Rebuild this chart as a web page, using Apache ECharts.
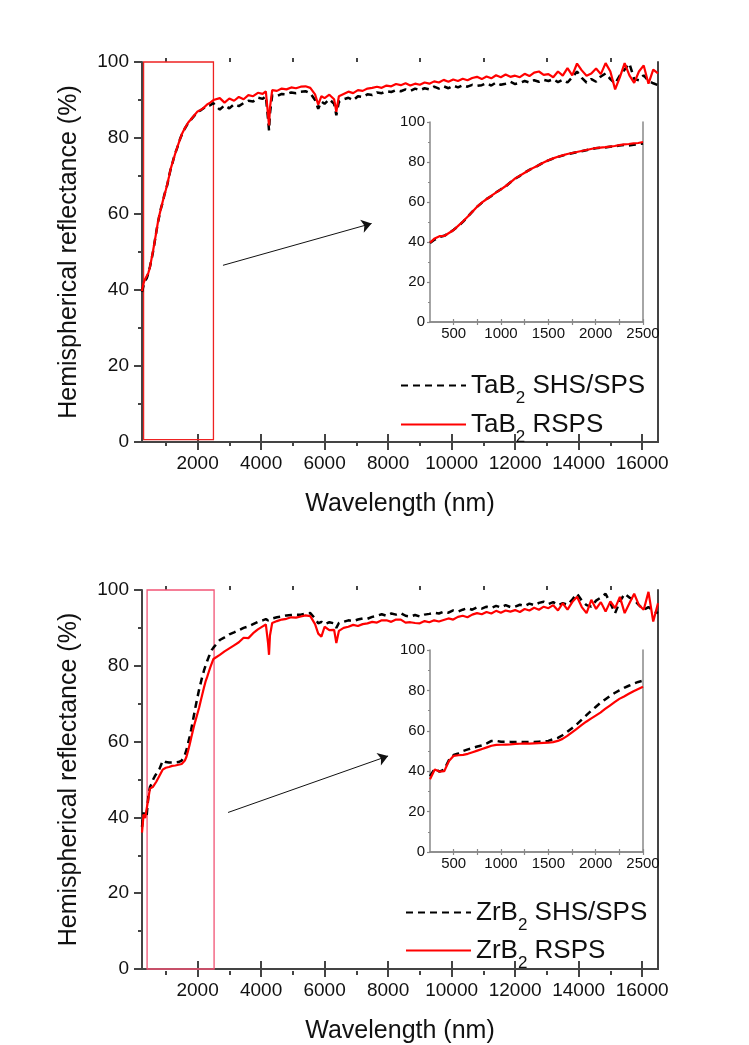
<!DOCTYPE html>
<html>
<head>
<meta charset="utf-8">
<script src="https://cdn.jsdelivr.net/npm/echarts@6/dist/echarts.min.js"></script>
<style>html,body{margin:0;padding:0;background:#fff;}#c{width:749px;height:1045px;}</style>
</head>
<body>
<div id="c"></div>
<script>
// ---------- data ----------
const insetWl = [
  250,300,350,400,450,500,550,600,650,700,
  750,800,850,900,950,1000,1050,1100,1150,1200,
  1250,1300,1350,1400,1450,1500,1550,1600,1650,1700,
  1750,1800,1850,1900,1950,2000,2050,2100,2150,2200,
  2250,2300,2350,2400,2450,2500];

const taShsInset = [
  39.5,41.2,42.5,43.1,44.4,46.1,48.0,50.2,52.7,55.3,
  57.7,59.7,61.6,63.0,64.9,66.4,67.8,69.9,71.7,73.1,
  74.7,76.1,77.2,78.4,79.8,80.8,81.7,82.5,83.2,83.9,
  84.4,84.9,85.4,85.9,86.4,86.9,87.1,87.3,87.6,87.9,
  88.2,88.5,88.3,88.6,88.9,89.2];
const taRspsInset = [
  39.7,41.8,42.9,43.0,44.5,46.0,48.2,50.4,52.8,55.2,
  57.8,59.8,61.5,63.2,64.8,66.3,68.0,69.8,71.8,73.2,
  74.6,76.0,77.3,78.5,79.7,80.9,81.8,82.6,83.3,84.0,
  84.5,85.0,85.5,86.0,86.5,87.0,87.2,87.4,87.7,88.0,
  88.4,88.8,89.0,89.3,89.5,90.0];
const zrShsInset = [
  37.5,41.3,39.8,40.8,45.5,48.0,48.8,50.0,50.8,51.5,
  52.2,52.8,53.8,55.0,55.0,54.6,54.6,54.5,54.4,54.5,
  54.5,54.5,54.4,54.6,54.8,55.0,55.8,56.5,57.8,59.5,
  61.3,63.2,65.4,67.6,69.8,71.8,73.8,75.5,77.2,78.7,
  80.0,81.2,82.3,83.3,84.2,84.8];
const zrRspsInset = [
  36.0,40.8,39.8,40.0,45.0,47.6,47.9,48.1,48.6,49.4,
  50.2,51.0,51.8,52.6,53.0,53.1,53.2,53.3,53.5,53.6,
  53.8,53.7,53.8,53.9,54.0,54.1,54.4,55.0,56.0,57.5,
  59.2,61.0,62.8,64.5,66.0,67.5,69.0,70.8,72.5,74.2,
  75.8,77.0,78.3,79.6,80.7,81.8];

const longWl = [
  2550,2700,2850,3000,3150,3300,3450,3600,3750,3900,
  4050,4150,4220,4250,4280,4350,4500,4650,4800,4950,
  5100,5250,5400,5550,5700,5800,5900,6000,6150,6300,
  6370,6450,6600,6750,6900,7050,7200,7350,7500,7650,
  7800,7950,8100,8250,8400,8550,8700,8850,9000,9150,
  9300,9450,9600,9750,9900,10050,10200,10350,10500,10650,
  10800,10950,11100,11250,11400,11550,11700,11850,12000,12150,
  12300,12450,12600,12750,12900,13050,13200,13350,13500,13650,
  13800,13950,14100,14250,14400,14550,14700,14850,15000,15150,
  15300,15450,15600,15750,15900,16050,16200,16350,16500];

const taShsLong = [
  88.5,87.5,88.6,87.8,88.9,88.4,89.2,89.8,89.6,90.6,
  90.3,91.0,85.0,82.0,86.5,91.2,91.0,91.6,91.5,92.0,
  91.8,92.2,92.3,91.8,90.0,87.7,89.6,89.0,90.2,89.0,
  86.0,89.5,90.2,90.6,89.9,91.0,90.8,91.5,91.3,92.0,
  91.8,92.3,92.1,92.6,92.3,92.8,92.4,93.0,92.6,93.1,
  92.8,93.5,93.0,93.6,93.1,93.8,93.3,93.9,93.5,94.0,
  93.7,93.9,94.4,93.8,94.6,94.0,94.3,94.8,94.2,94.5,
  95.0,94.6,95.2,94.8,95.3,95.0,95.5,94.7,95.3,94.6,
  96.0,97.5,95.8,94.6,95.5,94.8,96.2,97.0,95.5,94.3,
  96.5,98.0,99.6,95.5,95.2,96.5,95.0,94.4,93.9];
const taRspsLong = [
  89.5,90.5,89.3,90.4,89.8,90.8,90.2,91.3,91.0,91.9,
  91.6,92.3,86.0,83.3,88.0,92.6,92.4,93.0,92.8,93.3,
  93.1,93.5,93.6,93.2,91.5,88.8,91.0,90.5,91.4,90.2,
  86.9,91.0,91.6,92.2,91.8,92.6,92.4,93.0,93.2,93.5,
  93.2,93.8,93.6,94.2,93.9,94.4,93.8,94.3,94.0,94.6,
  94.3,94.9,94.6,95.3,94.8,95.4,95.0,95.6,95.2,95.8,
  96.1,95.5,96.2,95.7,96.5,96.0,96.7,96.1,96.4,96.0,
  96.9,96.3,97.2,97.5,96.6,96.8,96.0,97.5,96.4,98.4,
  96.5,99.6,97.8,96.4,97.0,98.3,96.8,99.7,97.5,92.8,
  96.0,99.7,96.5,94.5,97.5,99.1,94.3,98.0,97.0];
const zrShsLong = [
  85.2,86.8,87.5,88.3,88.8,89.4,90.0,90.4,91.0,91.6,
  92.0,92.3,92.0,91.5,92.2,92.5,92.8,93.0,93.3,93.4,
  93.5,93.5,93.8,93.9,92.5,91.2,91.6,91.0,91.5,91.2,
  90.0,91.3,91.6,92.0,91.8,92.2,92.5,92.4,92.9,93.2,
  93.6,93.2,93.8,93.5,93.9,93.2,93.0,93.4,93.0,93.5,
  93.7,94.0,93.8,94.3,94.0,94.6,94.3,94.8,95.2,94.8,
  95.4,95.1,95.6,95.3,95.8,95.4,96.0,95.5,95.6,96.1,
  95.8,96.4,96.0,96.6,96.9,96.3,96.8,96.0,96.5,96.1,
  97.5,99.0,97.2,96.0,95.6,97.2,98.0,99.0,96.5,93.9,
  97.0,99.0,98.0,97.4,96.0,94.8,95.5,94.5,93.9];
const zrRspsLong = [
  82.0,82.9,83.8,84.6,85.4,86.2,87.4,87.3,88.6,89.6,
  90.4,90.9,86.0,82.9,88.0,91.3,91.8,92.2,92.4,92.8,
  92.7,93.0,93.3,93.1,91.0,88.5,87.7,90.3,89.4,89.5,
  86.0,89.2,90.0,90.3,90.8,90.5,91.0,91.2,91.6,91.4,
  92.0,92.0,91.6,92.2,92.2,91.4,91.5,91.3,91.2,91.8,
  91.5,92.0,91.7,92.1,92.5,92.2,92.9,93.2,92.8,93.5,
  93.9,93.6,94.2,93.8,94.5,94.0,94.6,94.3,94.7,94.2,
  95.0,94.6,95.3,94.8,95.6,95.2,96.0,94.6,96.5,94.8,
  96.8,98.2,95.5,93.9,97.4,95.0,96.8,94.3,97.0,95.2,
  98.2,93.9,96.5,99.0,96.0,94.8,99.5,91.7,96.5];

// tick values
const mainTicksX = [2000,4000,6000,8000,10000,12000,14000,16000];
const minorTicksX = [1000,3000,5000,7000,9000,11000,13000,15000];
const insetTicksX = [500,750,1000,1250,1500,1750,2000,2250,2500];
const insetLabelsX = [500,1000,1500,2000,2500];

// annotations (data coordinates)
const boxTop = [[300, 0.6], [2500, 100]];
const boxBottom = [[410, 0], [2520, 100]];
const arrowTop = [[2800, 46.5], [7480, 57.5]];
const arrowBottom = [[2960, 41.3], [8000, 56.2]];

const names = ['TaB2 SHS/SPS', 'TaB2 RSPS', 'ZrB2 SHS/SPS', 'ZrB2 RSPS'];

// ---------- build ----------
function pairs(xs, ys) { return xs.map((x, i) => [x, ys[i]]); }
const FONT = "'Liberation Sans', Arial, sans-serif";
const AX = '#444', INAX = '#888', TXT = '#111';
const mainX = [250, 16500], insetX = [250, 2500];
const plain = v => String(v);

const topMain = { left: 142, top: 62, width: 516, height: 380 };
const botMain = { left: 142, top: 590, width: 516, height: 381 };
const topInset = { left: 430, top: 122, width: 213, height: 200 };
const botInset = { left: 430, top: 650, width: 213, height: 202 };

function mainXAxes(gi, giOverlay) {
  return [
    { gridIndex: gi, type: 'value', position: 'bottom', min: mainX[0], max: mainX[1],
      axisLine: { lineStyle: { color: AX, width: 2 } },
      axisTick: { customValues: mainTicksX, length: 8, inside: false, lineStyle: { color: AX, width: 2 } },
      axisLabel: { customValues: mainTicksX, formatter: plain, margin: 12, fontSize: 19, color: TXT, fontFamily: FONT },
      splitLine: { show: false },
      name: 'Wavelength (nm)', nameLocation: 'middle', nameGap: 50,
      nameTextStyle: { fontSize: 25, color: TXT, fontFamily: FONT } },
    { gridIndex: gi, type: 'value', position: 'top', min: mainX[0], max: mainX[1],
      axisLine: { lineStyle: { color: AX, width: 2 } },
      axisTick: { customValues: mainTicksX, length: 8, lineStyle: { color: AX, width: 2 } },
      axisLabel: { show: false }, splitLine: { show: false } },
    { gridIndex: giOverlay, type: 'value', position: 'bottom', min: mainX[0], max: mainX[1],
      axisLine: { show: false },
      axisTick: { customValues: minorTicksX, length: 4, lineStyle: { color: AX, width: 2 } },
      axisLabel: { show: false }, splitLine: { show: false } },
    { gridIndex: giOverlay, type: 'value', position: 'top', min: mainX[0], max: mainX[1],
      axisLine: { show: false },
      axisTick: { customValues: minorTicksX, length: 4, lineStyle: { color: AX, width: 2 } },
      axisLabel: { show: false }, splitLine: { show: false } }
  ];
}
function insetXAxes(gi) {
  return [
    { gridIndex: gi, type: 'value', position: 'bottom', min: insetX[0], max: insetX[1],
      axisLine: { lineStyle: { color: INAX, width: 1.5 } },
      axisTick: { customValues: insetTicksX, length: 3, lineStyle: { color: INAX, width: 1.2 } },
      axisLabel: { customValues: insetLabelsX, formatter: plain, margin: 4, fontSize: 15, color: TXT, fontFamily: FONT },
      splitLine: { show: false } },
    { gridIndex: gi, type: 'value', position: 'top', min: insetX[0], max: insetX[1],
      axisLine: { lineStyle: { color: INAX, width: 1.5 } },
      axisTick: { customValues: insetTicksX, length: 3, lineStyle: { color: INAX, width: 1.2 } },
      axisLabel: { show: false }, splitLine: { show: false } }
  ];
}
function mainYAxes(gi, giOverlay) {
  return [
    { gridIndex: gi, type: 'value', position: 'left', min: 0, max: 100, interval: 20,
      axisLine: { show: true, lineStyle: { color: AX, width: 2 } },
      axisTick: { show: true, length: 8, lineStyle: { color: AX, width: 2 } },
      minorTick: { show: true, splitNumber: 2, length: 4, lineStyle: { color: AX, width: 2 } },
      axisLabel: { margin: 13, fontSize: 19, color: TXT, fontFamily: FONT },
      splitLine: { show: false },
      name: 'Hemispherical reflectance (%)', nameLocation: 'middle', nameGap: 60,
      nameTextStyle: { fontSize: 25, color: TXT, fontFamily: FONT } },
    { gridIndex: gi, type: 'value', position: 'right', min: 0, max: 100,
      axisLine: { show: true, lineStyle: { color: AX, width: 2 } },
      axisTick: { show: false }, axisLabel: { show: false }, splitLine: { show: false } },
    { gridIndex: giOverlay, type: 'value', show: false, min: 0, max: 100 }
  ];
}
function insetYAxes(gi) {
  return [
    { gridIndex: gi, type: 'value', position: 'left', min: 0, max: 100, interval: 20,
      axisLine: { show: true, lineStyle: { color: INAX, width: 1.5 } },
      axisTick: { show: true, length: 3, lineStyle: { color: INAX, width: 1.2 } },
      minorTick: { show: true, splitNumber: 2, length: 2, lineStyle: { color: INAX, width: 1 } },
      axisLabel: { margin: 5, fontSize: 15, color: TXT, fontFamily: FONT },
      splitLine: { show: false } },
    { gridIndex: gi, type: 'value', position: 'right', min: 0, max: 100,
      axisLine: { show: true, lineStyle: { color: INAX, width: 1.5 } },
      axisTick: { show: false }, axisLabel: { show: false }, splitLine: { show: false } }
  ];
}

const blackStyle = { color: '#000', width: 2.5, type: [7, 5] };
const redStyle = { color: '#ff0000', width: 2.2 };

function lineSeries(name, xi, yi, data, style, z) {
  return { name, type: 'line', xAxisIndex: xi, yAxisIndex: yi, data,
    showSymbol: false, symbol: 'none', lineStyle: style, itemStyle: { color: style.color },
    clip: true, z: z, silent: true };
}
function annotate(series, box, arrow, boxColor) {
  series.markArea = { silent: true,
    itemStyle: { color: 'rgba(0,0,0,0)', borderColor: boxColor, borderWidth: 1.3 },
    data: [[{ coord: box[0] }, { coord: box[1] }]] };
  series.markLine = { silent: true, symbol: ['none', 'arrow'], symbolSize: 10,
    label: { show: false }, lineStyle: { color: '#111', width: 1, type: 'solid' },
    data: [[{ coord: arrow[0] }, { coord: arrow[1] }]] };
  return series;
}

const topRed = annotate(lineSeries(names[1], 0, 0,
  pairs(insetWl, taRspsInset).concat(pairs(longWl, taRspsLong)), redStyle, 3), boxTop, arrowTop, '#ee2222');
const botRed = annotate(lineSeries(names[3], 6, 5,
  pairs(insetWl, zrRspsInset).concat(pairs(longWl, zrRspsLong)), redStyle, 3), boxBottom, arrowBottom, '#f25475');

const series = [
  lineSeries(names[0], 0, 0, pairs(insetWl, taShsInset).concat(pairs(longWl, taShsLong)), blackStyle, 2),
  topRed,
  lineSeries(names[0], 4, 3, pairs(insetWl, taShsInset), blackStyle, 2),
  lineSeries(names[1], 4, 3, pairs(insetWl, taRspsInset), redStyle, 3),
  lineSeries(names[2], 6, 5, pairs(insetWl, zrShsInset).concat(pairs(longWl, zrShsLong)), blackStyle, 2),
  botRed,
  lineSeries(names[2], 10, 8, pairs(insetWl, zrShsInset), blackStyle, 2),
  lineSeries(names[3], 10, 8, pairs(insetWl, zrRspsInset), redStyle, 3)
];

function legend(data, left, top, gap) {
  return { data, orient: 'vertical', left, top, itemWidth: 65, itemHeight: 14, itemGap: gap,
    selectedMode: false,
    itemStyle: { opacity: 0 },
    formatter: n => n.replace('B2', 'B{sub|2}'),
    textStyle: { fontSize: 26, color: TXT, fontFamily: FONT, lineHeight: 30,
      rich: { sub: { fontSize: 17, lineHeight: 16, padding: [26, 0, 0, 0], fontFamily: FONT, color: TXT } } } };
}

const option = {
  animation: false,
  backgroundColor: '#fff',
  grid: [
    Object.assign({ containLabel: false }, topMain),
    Object.assign({ containLabel: false }, topMain),
    Object.assign({ containLabel: false }, topInset),
    Object.assign({ containLabel: false }, botMain),
    Object.assign({ containLabel: false }, botMain),
    Object.assign({ containLabel: false }, botInset)
  ],
  xAxis: [].concat(mainXAxes(0, 1), insetXAxes(2), mainXAxes(3, 4), insetXAxes(5)),
  yAxis: [].concat(mainYAxes(0, 1), insetYAxes(2), mainYAxes(3, 4), insetYAxes(5)),
  legend: [
    legend([names[0], names[1]], 395, 359, -4),
    legend([names[2], names[3]], 400, 886, -5)
  ],
  series
};

const chart = echarts.init(document.getElementById('c'), null, { renderer: 'canvas' });
chart.setOption(option);
</script>
</body>
</html>
